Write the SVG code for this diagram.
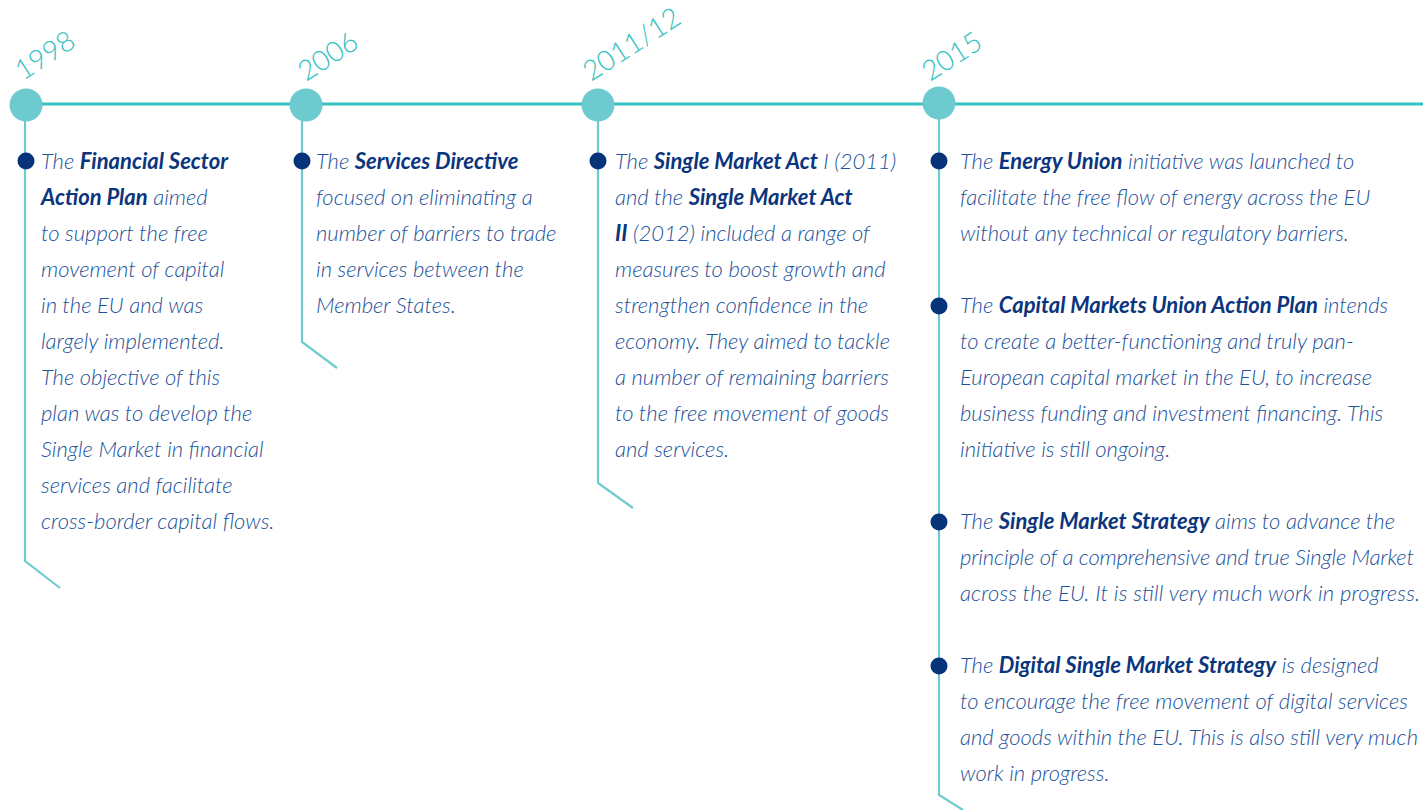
<svg xmlns="http://www.w3.org/2000/svg" width="1423" height="810" viewBox="0 0 1423 810">
<style>
.bg{fill:#ffffff}
.axis{stroke:#35c1c1;stroke-width:3;fill:none}
.stem{stroke:#6dcbd0;stroke-width:2.2;fill:none}
.milestone{fill:#6dcbd0}
.dot{fill:#07337a}
.year{font-family:Lato,"Open Sans","Liberation Sans",sans-serif;font-weight:300;font-size:28px;fill:#35c1c1}
.body{font-family:Lato,"Open Sans","Liberation Sans",sans-serif;font-style:italic;font-weight:300;font-size:22px;fill:#22519a}
.b{font-weight:700;fill:#0b357c}
</style>
<rect class="bg" x="0" y="0" width="1423" height="810"/>
<g id="connectors">
<line class="axis" x1="26" y1="104" x2="1423" y2="104"/>
<polyline class="stem" points="25,105 25,561 60,588"/>
<polyline class="stem" points="302,105 302,342 337,368"/>
<polyline class="stem" points="598,105 598,483 633,508"/>
<polyline class="stem" points="939,105 939,795 963,810"/>
</g>
<g id="m1998">
<circle class="milestone" cx="26" cy="105" r="16.5"/>
<text class="year" x="23" y="81" transform="rotate(-33 23 81)">1998</text>
</g>
<g id="m2006">
<circle class="milestone" cx="306" cy="105" r="16.5"/>
<text class="year" x="306" y="82" transform="rotate(-33 306 82)">2006</text>
</g>
<g id="m2011">
<circle class="milestone" cx="598" cy="105" r="16.5"/>
<text class="year" x="591" y="82" transform="rotate(-33 591 82)">2011/12</text>
</g>
<g id="m2015">
<circle class="milestone" cx="939" cy="103" r="16.5"/>
<text class="year" x="930" y="82" transform="rotate(-33 930 82)">2015</text>
</g>
<g id="item-fsap">
<circle class="dot" cx="26" cy="161" r="8.5"/>
<text class="body" x="41" y="169">The <tspan class="b">Financial Sector</tspan></text>
<text class="body" x="41" y="205"><tspan class="b">Action Plan</tspan> aimed</text>
<text class="body" x="41" y="241">to support the free</text>
<text class="body" x="41" y="277">movement of capital</text>
<text class="body" x="41" y="313">in the EU and was</text>
<text class="body" x="41" y="349">largely implemented.</text>
<text class="body" x="41" y="385">The objective of this</text>
<text class="body" x="41" y="421">plan was to develop the</text>
<text class="body" x="41" y="457">Single Market in financial</text>
<text class="body" x="41" y="493">services and facilitate</text>
<text class="body" x="41" y="529">cross-border capital flows.</text>
</g>
<g id="item-services">
<circle class="dot" cx="302" cy="161" r="8.5"/>
<text class="body" x="316" y="169">The <tspan class="b">Services Directive</tspan></text>
<text class="body" x="316" y="205">focused on eliminating a</text>
<text class="body" x="316" y="241">number of barriers to trade</text>
<text class="body" x="316" y="277">in services between the</text>
<text class="body" x="316" y="313">Member States.</text>
</g>
<g id="item-sma">
<circle class="dot" cx="598" cy="161" r="8.5"/>
<text class="body" x="615" y="169">The <tspan class="b">Single Market Act</tspan> I (2011)</text>
<text class="body" x="615" y="205">and the <tspan class="b">Single Market Act</tspan></text>
<text class="body" x="615" y="241"><tspan class="b">II</tspan> (2012) included a range of</text>
<text class="body" x="615" y="277">measures to boost growth and</text>
<text class="body" x="615" y="313">strengthen confidence in the</text>
<text class="body" x="615" y="349">economy. They aimed to tackle</text>
<text class="body" x="615" y="385">a number of remaining barriers</text>
<text class="body" x="615" y="421">to the free movement of goods</text>
<text class="body" x="615" y="457">and services.</text>
</g>
<g id="item-energy">
<circle class="dot" cx="939" cy="161" r="8.5"/>
<text class="body" x="960" y="169">The <tspan class="b">Energy Union</tspan> initiative was launched to</text>
<text class="body" x="960" y="205">facilitate the free flow of energy across the EU</text>
<text class="body" x="960" y="241">without any technical or regulatory barriers.</text>
</g>
<g id="item-cmu">
<circle class="dot" cx="939" cy="306" r="8.5"/>
<text class="body" x="960" y="313">The <tspan class="b">Capital Markets Union Action Plan</tspan> intends</text>
<text class="body" x="960" y="349">to create a better-functioning and truly pan-</text>
<text class="body" x="960" y="385">European capital market in the EU, to increase</text>
<text class="body" x="960" y="421">business funding and investment financing. This</text>
<text class="body" x="960" y="457">initiative is still ongoing.</text>
</g>
<g id="item-sms">
<circle class="dot" cx="939" cy="522" r="8.5"/>
<text class="body" x="960" y="529">The <tspan class="b">Single Market Strategy</tspan> aims to advance the</text>
<text class="body" x="960" y="565" textLength="454" lengthAdjust="spacing">principle of a comprehensive and true Single Market</text>
<text class="body" x="960" y="601" textLength="460" lengthAdjust="spacing">across the EU. It is still very much work in progress.</text>
</g>
<g id="item-dsm">
<circle class="dot" cx="939" cy="666" r="8.5"/>
<text class="body" x="960" y="673">The <tspan class="b">Digital Single Market Strategy</tspan> is designed</text>
<text class="body" x="960" y="709">to encourage the free movement of digital services</text>
<text class="body" x="960" y="745" textLength="458" lengthAdjust="spacing">and goods within the EU. This is also still very much</text>
<text class="body" x="960" y="781">work in progress.</text>
</g>
</svg>
